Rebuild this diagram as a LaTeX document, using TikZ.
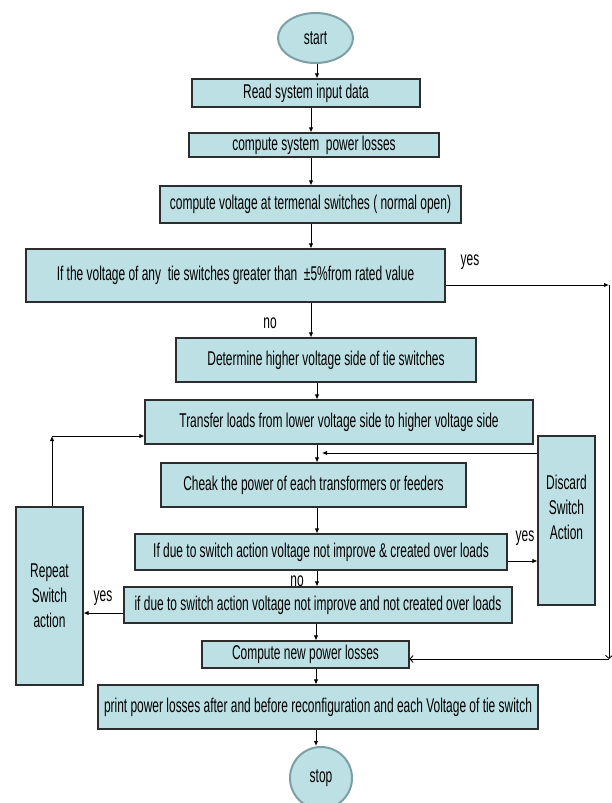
\documentclass[tikz,border=0pt]{standalone}
\usepackage{fontspec}
\setmainfont{Liberation Sans}[FakeStretch=0.6]
\usetikzlibrary{arrows.meta,shapes.geometric}
\definecolor{boxfill}{RGB}{189,224,228}
\definecolor{ovalline}{RGB}{125,160,164}
\definecolor{boxline}{RGB}{45,45,45}
\begin{document}
\begin{tikzpicture}[x=1bp,y=-1bp,
  every node/.style={font=\fontsize{20}{25}\selectfont},
  box/.style={draw=boxline, fill=boxfill, line width=1.1bp, inner sep=0pt, anchor=center, align=center},
  term/.style={draw=ovalline, fill=boxfill, line width=2bp, inner sep=0pt, anchor=center},
  arr/.style={draw=black, line width=0.9bp, -{Latex[length=5bp,width=4.5bp]}},
  openarr/.style={draw=black, line width=0.9bp, -{Straight Barb[length=3bp,width=7bp]}},
  lbl/.style={inner sep=0pt, anchor=center}]
\fill[white] (0,0) rectangle (612,803);
\useasboundingbox (0,0) rectangle (612,803);

% column coordinates
\coordinate (xA) at (317,0);
\coordinate (xB) at (311,0);
\coordinate (xC) at (316,0);

% labels drawn first (some are partly covered by boxes)
\node[lbl] (yes1) at (470,262) {yes};
\node[lbl] (no1) at (270,323) {no};
\node[lbl] (yes2) at (525,538) {yes};
\node[lbl] (no2) at (297,581) {no};
\node[lbl] (yes3) at (103,598) {yes};

% nodes
\node[term, shape=ellipse, minimum width=75bp, minimum height=50bp] (start) at (315.5,38) {start};
\node[box, minimum width=228bp, minimum height=28bp] (read) at (306,93) {Read system input data};
\node[box, minimum width=250bp, minimum height=24bp] (comp) at (314,145) {compute system\ \ power losses};
\node[box, minimum width=301bp, minimum height=37bp] (volt) at (310.5,204.5) {compute voltage at termenal switches ( normal open)};
\node[box, minimum width=419bp, minimum height=53bp] (ifv) at (235.5,275.5) {If the voltage of any\ \ tie switches greater than\ \ ±5\%from rated value};
\node[box, minimum width=300bp, minimum height=44bp] (det) at (326,360) {Determine higher voltage side of tie switches};
\node[box, minimum width=388bp, minimum height=44bp] (trans) at (339,422) {Transfer loads from lower voltage side to higher voltage side};
\node[box, minimum width=305bp, minimum height=44bp] (cheak) at (313.5,485) {Cheak the power of each transformers or feeders};
\node[box, minimum width=372bp, minimum height=36bp] (ifd1) at (321,552) {If due to switch action voltage not improve \& created over loads};
\node[box, minimum width=388bp, minimum height=36bp] (ifd2) at (318,605) {if due to switch action voltage not improve and not created over loads};
\node[box, minimum width=207bp, minimum height=27bp] (newpl) at (305.5,654.5) {Compute new power losses};
\node[box, minimum width=440bp, minimum height=44bp] (print) at (318,707) {print power losses after and before reconfiguration and each Voltage of tie switch};
\node[term, shape=circle, minimum size=62bp] (stop) at (321,778) {stop};
\node[box, minimum width=57bp, minimum height=169bp] (discard) at (566.5,520.5) {};
\node[lbl, align=center] (discardtxt) at (566.5,507) {Discard\\Switch\\Action};
\node[box, minimum width=67bp, minimum height=178bp] (repeat) at (49.5,596) {Repeat\\Switch\\action};

% helper coordinates for bends
\coordinate (c1) at (609,285);
\coordinate (c2) at (609,659);
\coordinate (c3) at (322,453);
\coordinate (c4) at (52,436);
\coordinate (yd1) at (0,561);
\coordinate (yd2) at (0,613);

% main column
\draw[arr] (start.south -| xA) -- (read.north -| xA);
\draw[arr] (read.south -| xB) -- (comp.north -| xB);
\draw[arr] (comp.south -| xB) -- (volt.north -| xB);
\draw[arr] (volt.south -| xB) -- (ifv.north -| xB);
\draw[arr] (ifv.south -| xB) -- (det.north -| xB);
\draw[arr] (det.south -| xA) -- (trans.north -| xA);
\draw[arr] (trans.south -| xA) -- (cheak.north -| xA);
\draw[arr] (cheak.south -| xA) -- (ifd1.north -| xA);
\draw[arr] (ifd1.south -| xA) -- (ifd2.north -| xA);
\draw[arr] (ifd2.south -| xC) -- (newpl.north -| xC);
\draw[arr] (newpl.south -| xC) -- (print.north -| xC);
\draw[arr] (print.south -| xC) -- (stop.north -| xC);

% yes branch of first test
\draw[arr] (ifv.east |- c1) -- (c1);
\draw[openarr] (c1) -- (c2);
\draw[openarr] (c2) -- (newpl.east |- c2);

% discard branch
\draw[arr] (ifd1.east |- yd1) -- (discard.west |- yd1);
\draw[arr] (discard.west |- c3) -- (c3);

% repeat branch
\draw[arr] (ifd2.west |- yd2) -- (repeat.east |- yd2);
\draw[arr] (repeat.north -| c4) -- (c4);
\draw[arr] (c4) -- (trans.west |- c4);
\end{tikzpicture}
\end{document}
